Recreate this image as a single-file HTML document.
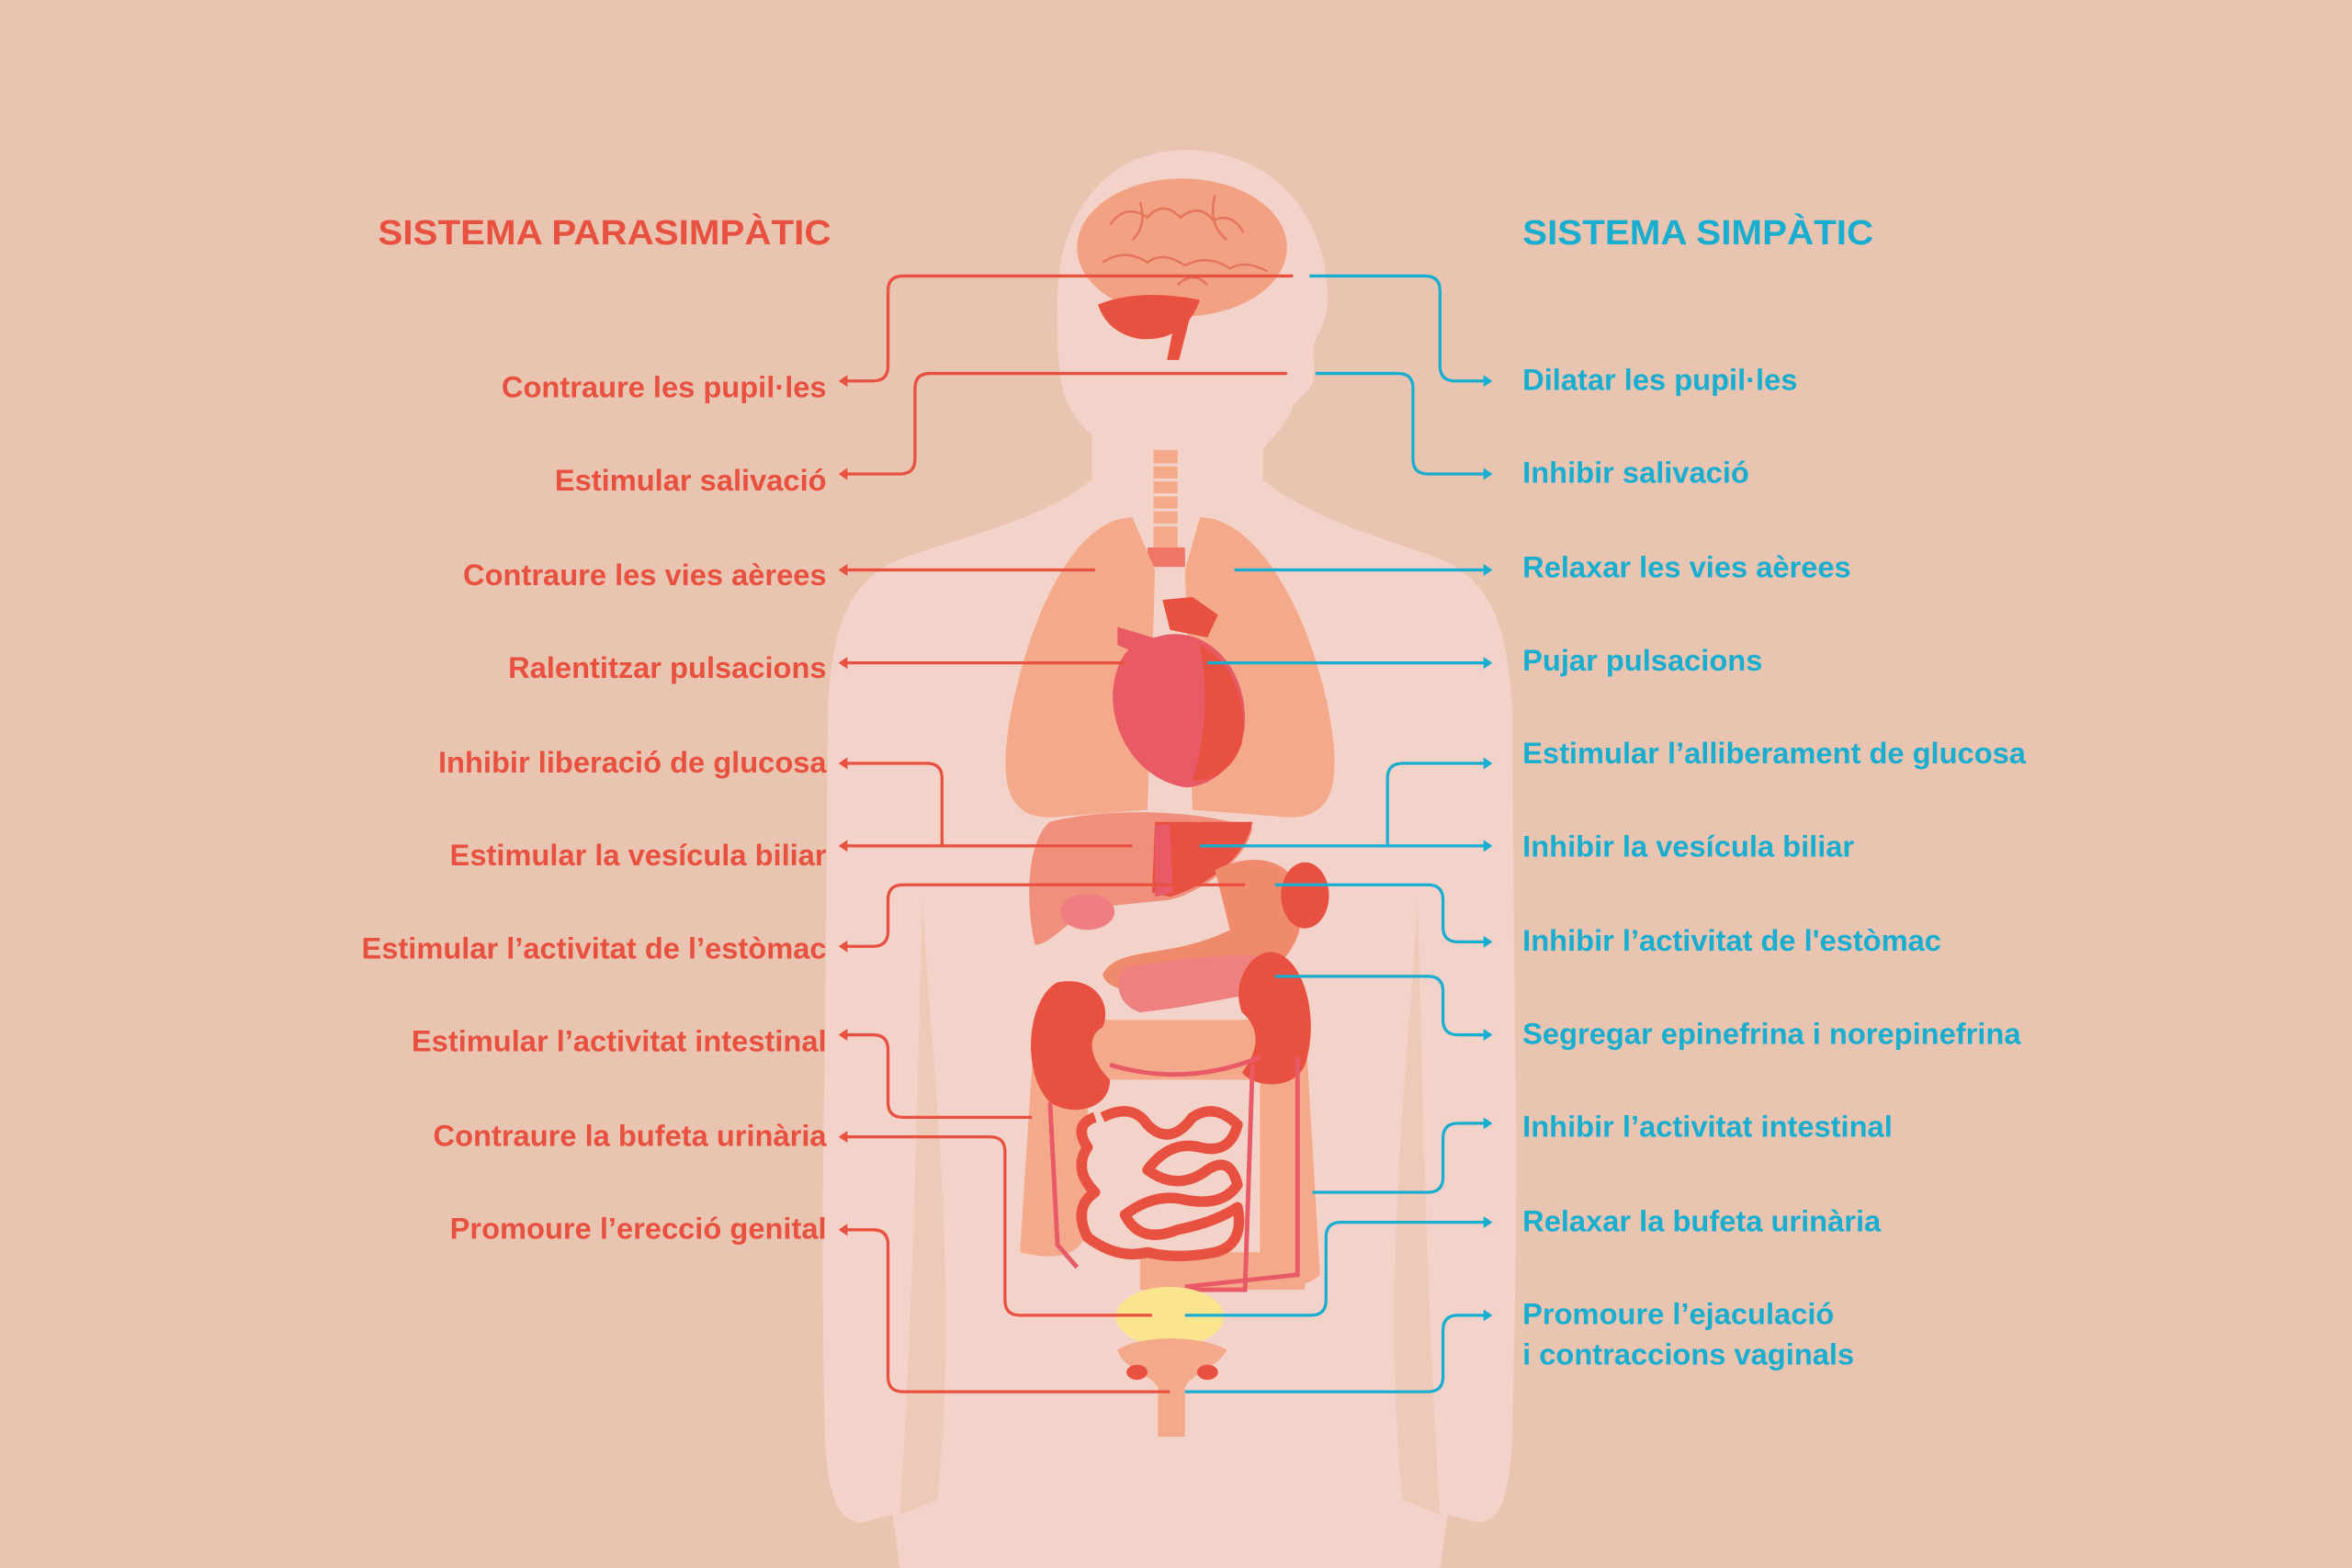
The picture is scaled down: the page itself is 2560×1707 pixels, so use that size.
<!DOCTYPE html>
<html><head><meta charset="utf-8"><style>
html,body{margin:0;padding:0;background:#e9c4b0;}
svg{display:block;}
text{font-family:"Liberation Sans",sans-serif;font-weight:bold;}
</style></head><body>
<svg width="2560" height="1707" viewBox="0 0 1568 1045.5" xmlns="http://www.w3.org/2000/svg">
<rect width="1568" height="1046" fill="#e9c4b0"/>
<path d="M790,100 C845,100 885,140 885,200 C885,215 878,222 876,230 C874,240 880,255 870,262 L862,270 C858,285 848,290 842,300 L842,320 C880,350 930,360 965,375 C995,390 1005,420 1008,470 L1010,700 C1012,780 1010,880 1008,960 C1006,1000 1000,1015 985,1015 L965,1010 L960,1046 L600,1046 L595,1010 L575,1015 C560,1015 552,1000 550,960 C548,880 548,780 550,700 L552,470 C555,420 565,390 595,375 C630,360 690,350 728,320 L728,290 C705,270 705,250 705,200 C705,140 740,100 790,100 Z" fill="#f3d3c9"/>
<path d="M615,600 C620,700 640,850 625,1000 L600,1010 C610,850 612,700 615,600Z" fill="#e9c4b0" opacity="0.7"/>
<path d="M945,600 C940,700 920,850 935,1000 L960,1010 C950,850 948,700 945,600Z" fill="#e9c4b0" opacity="0.7"/>
<ellipse cx="788" cy="165" rx="70" ry="46" fill="#f2a182"/>
<g stroke="#e36a55" stroke-width="1.5" fill="none" opacity="0.8">
<path d="M740,150 q10,-15 25,-5 q10,-12 22,0 q12,-10 22,2 q12,-6 20,8"/><path d="M735,175 q15,-10 30,0 q10,-8 25,2 q15,-8 30,2 q10,-6 25,2"/><path d="M760,135 q5,15 -5,25"/><path d="M810,130 q-5,20 8,30"/><path d="M785,190 q10,-10 20,0"/>
</g>
<path d="M732,203 Q760,192 800,200 Q790,228 760,226 Q738,222 732,203Z" fill="#e8503f"/>
<path d="M785,205 L778,240 L786,240 L795,205Z" fill="#e8503f"/>
<rect x="769" y="300" width="16" height="68" fill="#f4a98a"/>
<g stroke="#f3d3c9" stroke-width="2"><line x1="769" y1="310" x2="785" y2="310"/><line x1="769" y1="320" x2="785" y2="320"/><line x1="769" y1="330" x2="785" y2="330"/><line x1="769" y1="340" x2="785" y2="340"/><line x1="769" y1="350" x2="785" y2="350"/></g>
<path d="M765,365 L790,365 L790,378 L765,378Z" fill="#ef7565"/>
<path d="M755,345 C720,345 690,400 675,470 C665,520 670,545 700,545 L765,540 L770,380 Z" fill="#f4a98a"/>
<path d="M800,345 C835,345 870,400 885,470 C895,520 890,545 860,545 L795,540 L790,380 Z" fill="#f4a98a"/>
<path d="M768,410 L768,440 L745,430 L745,418 L768,425 Z" fill="#e85a65"/>
<path d="M775,400 L795,398 L812,410 L805,425 L780,420Z" fill="#e8503f"/>
<path d="M770,425 C800,415 830,440 830,480 C830,505 810,525 790,525 C760,520 740,490 742,460 C745,435 755,428 770,425Z" fill="#e85a65"/>
<path d="M800,430 C820,440 832,465 828,495 C822,515 805,522 795,520 C805,490 805,455 800,430Z" fill="#e8503f"/>
<path d="M700,548 C740,538 800,540 835,552 C830,575 800,595 780,600 L730,605 C710,615 700,630 690,630 C683,600 685,560 700,548Z" fill="#ef8f7c"/>
<path d="M770,548 L835,548 C830,575 800,592 780,598 L768,595 Z" fill="#e8503f"/>
<path d="M770,550 L780,550 L782,595 L770,598Z" fill="#e85a65"/>
<ellipse cx="725" cy="608" rx="18" ry="12" fill="#ef7d82"/>
<path d="M810,580 C840,565 870,575 868,610 C866,640 840,660 800,660 C770,660 740,665 735,650 C745,630 780,640 820,620 Z" fill="#f08a6c"/>
<ellipse cx="870" cy="597" rx="16" ry="22" fill="#e8503f"/>
<path d="M750,645 C780,640 820,635 850,638 L850,660 C820,665 790,672 760,675 C745,670 742,655 750,645Z" fill="#ef8080"/>
<path d="M690,680 L870,680 L880,850 C870,860 850,860 840,850 L840,720 L725,720 L725,820 C720,840 700,840 680,835 Z" fill="#f4a98a"/>
<path d="M760,835 L870,835 L870,860 L760,860Z" fill="#f4a98a"/>
<path d="M705,655 C730,650 742,670 735,685 C725,690 725,705 740,720 C740,740 715,745 700,735 C680,715 685,665 705,655Z" fill="#e8503f"/>
<path d="M850,635 C870,640 880,680 870,710 C862,728 835,725 828,715 C840,700 840,685 828,675 C820,655 835,632 850,635Z" fill="#e8503f"/>
<g stroke="#e85a65" stroke-width="3" fill="none">
<path d="M700,735 L705,830 L718,845"/><path d="M740,710 Q790,725 840,705"/><path d="M835,710 L830,860 L785,860"/><path d="M865,705 L865,850 L790,858"/>
</g>
<g stroke="#e8503f" stroke-width="7" fill="none" stroke-linejoin="round">
<path d="M735,745 q20,-10 30,5 q15,15 30,-5 q15,-10 30,5 q-5,20 -25,15 q-20,-5 -35,15 q20,15 40,0 q15,-10 20,10 q-10,15 -35,10 q-20,-5 -40,10 q10,20 35,10 q25,-5 40,-15 q5,25 -15,30 q-25,5 -45,0 q-20,5 -40,-10 q-10,-20 5,-30 q-15,-15 -5,-30 q-10,-15 5,-20"/>
</g>
<ellipse cx="780" cy="878" rx="36" ry="20" fill="#fbe48e"/>
<path d="M745,900 C760,890 800,890 818,900 C812,912 795,915 790,925 L790,958 L772,958 L772,925 C765,915 748,912 745,900Z" fill="#f4a98a"/>
<ellipse cx="758" cy="915" rx="7" ry="5" fill="#e8503f"/><ellipse cx="805" cy="915" rx="7" ry="5" fill="#e8503f"/>
<text x="252" y="163" font-size="22" fill="#e8503f" textLength="302" lengthAdjust="spacingAndGlyphs" style="font-size:23px">SISTEMA PARASIMPÀTIC</text>
<text x="1015" y="163" font-size="23" fill="#19aed0" textLength="234" lengthAdjust="spacingAndGlyphs">SISTEMA SIMPÀTIC</text>
<g stroke="#e8503f" stroke-width="2" fill="none">
<path d="M862,184 H602 Q592,184 592,194 V244 Q592,254 582,254 H562"/>
<path d="M858,249 H620 Q610,249 610,259 V306 Q610,316 600,316 H562"/>
<path d="M730,380 H562"/><path d="M750,442 H562"/>
<path d="M755,564 H562"/><path d="M628,564 V519 Q628,509 618,509 H562"/>
<path d="M830,590 H602 Q592,590 592,600 V621 Q592,631 582,631 H562"/>
<path d="M688,745 H602 Q592,745 592,735 V700 Q592,690 582,690 H562"/>
<path d="M768,877 H680 Q670,877 670,867 V768 Q670,758 660,758 H562"/>
<path d="M780,928 H602 Q592,928 592,918 V830 Q592,820 582,820 H562"/>
</g>
<g fill="#e8503f">
<path d="M559,254 l6,-4 v8z"/><path d="M559,316 l6,-4 v8z"/><path d="M559,380 l6,-4 v8z"/><path d="M559,442 l6,-4 v8z"/><path d="M559,509 l6,-4 v8z"/><path d="M559,564 l6,-4 v8z"/><path d="M559,631 l6,-4 v8z"/><path d="M559,690 l6,-4 v8z"/><path d="M559,758 l6,-4 v8z"/><path d="M559,820 l6,-4 v8z"/>
</g>
<g stroke="#19aed0" stroke-width="2" fill="none">
<path d="M873,184 H950 Q960,184 960,194 V244 Q960,254 970,254 H990"/>
<path d="M877,249 H932 Q942,249 942,259 V306 Q942,316 952,316 H990"/>
<path d="M823,380 H990"/><path d="M805,442 H990"/>
<path d="M800,564 H990"/><path d="M925,564 V519 Q925,509 935,509 H990"/>
<path d="M850,590 H952 Q962,590 962,600 V618 Q962,628 972,628 H990"/>
<path d="M850,651 H952 Q962,651 962,661 V680 Q962,690 972,690 H990"/>
<path d="M875,795 H952 Q962,795 962,785 V759 Q962,749 972,749 H990"/>
<path d="M790,877 H874 Q884,877 884,867 V825 Q884,815 894,815 H990"/>
<path d="M790,928 H952 Q962,928 962,918 V887 Q962,877 972,877 H990"/>
</g>
<g fill="#19aed0">
<path d="M995,254 l-6,-4 v8z"/><path d="M995,316 l-6,-4 v8z"/><path d="M995,380 l-6,-4 v8z"/><path d="M995,442 l-6,-4 v8z"/><path d="M995,509 l-6,-4 v8z"/><path d="M995,564 l-6,-4 v8z"/><path d="M995,628 l-6,-4 v8z"/><path d="M995,690 l-6,-4 v8z"/><path d="M995,749 l-6,-4 v8z"/><path d="M995,815 l-6,-4 v8z"/><path d="M995,877 l-6,-4 v8z"/>
</g>
<g font-size="20" fill="#e8503f" text-anchor="end">
<text x="551" y="265">Contraure les pupil·les</text>
<text x="551" y="327">Estimular salivació</text>
<text x="551" y="390">Contraure les vies aèrees</text>
<text x="551" y="452">Ralentitzar pulsacions</text>
<text x="551" y="515">Inhibir liberació de glucosa</text>
<text x="551" y="577">Estimular la vesícula biliar</text>
<text x="551" y="639">Estimular l’activitat de l’estòmac</text>
<text x="551" y="701">Estimular l’activitat intestinal</text>
<text x="551" y="764">Contraure la bufeta urinària</text>
<text x="551" y="826">Promoure l’erecció genital</text>
</g>
<g font-size="20" fill="#19aed0">
<text x="1015" y="260">Dilatar les pupil·les</text>
<text x="1015" y="322">Inhibir salivació</text>
<text x="1015" y="385">Relaxar les vies aèrees</text>
<text x="1015" y="447">Pujar pulsacions</text>
<text x="1015" y="509">Estimular l’alliberament de glucosa</text>
<text x="1015" y="571">Inhibir la vesícula biliar</text>
<text x="1015" y="634">Inhibir l’activitat de l'estòmac</text>
<text x="1015" y="696">Segregar epinefrina i norepinefrina</text>
<text x="1015" y="758">Inhibir l’activitat intestinal</text>
<text x="1015" y="821">Relaxar la bufeta urinària</text>
<text x="1015" y="883">Promoure l’ejaculació</text>
<text x="1015" y="910">i contraccions vaginals</text>
</g>
</svg>
</body></html>
